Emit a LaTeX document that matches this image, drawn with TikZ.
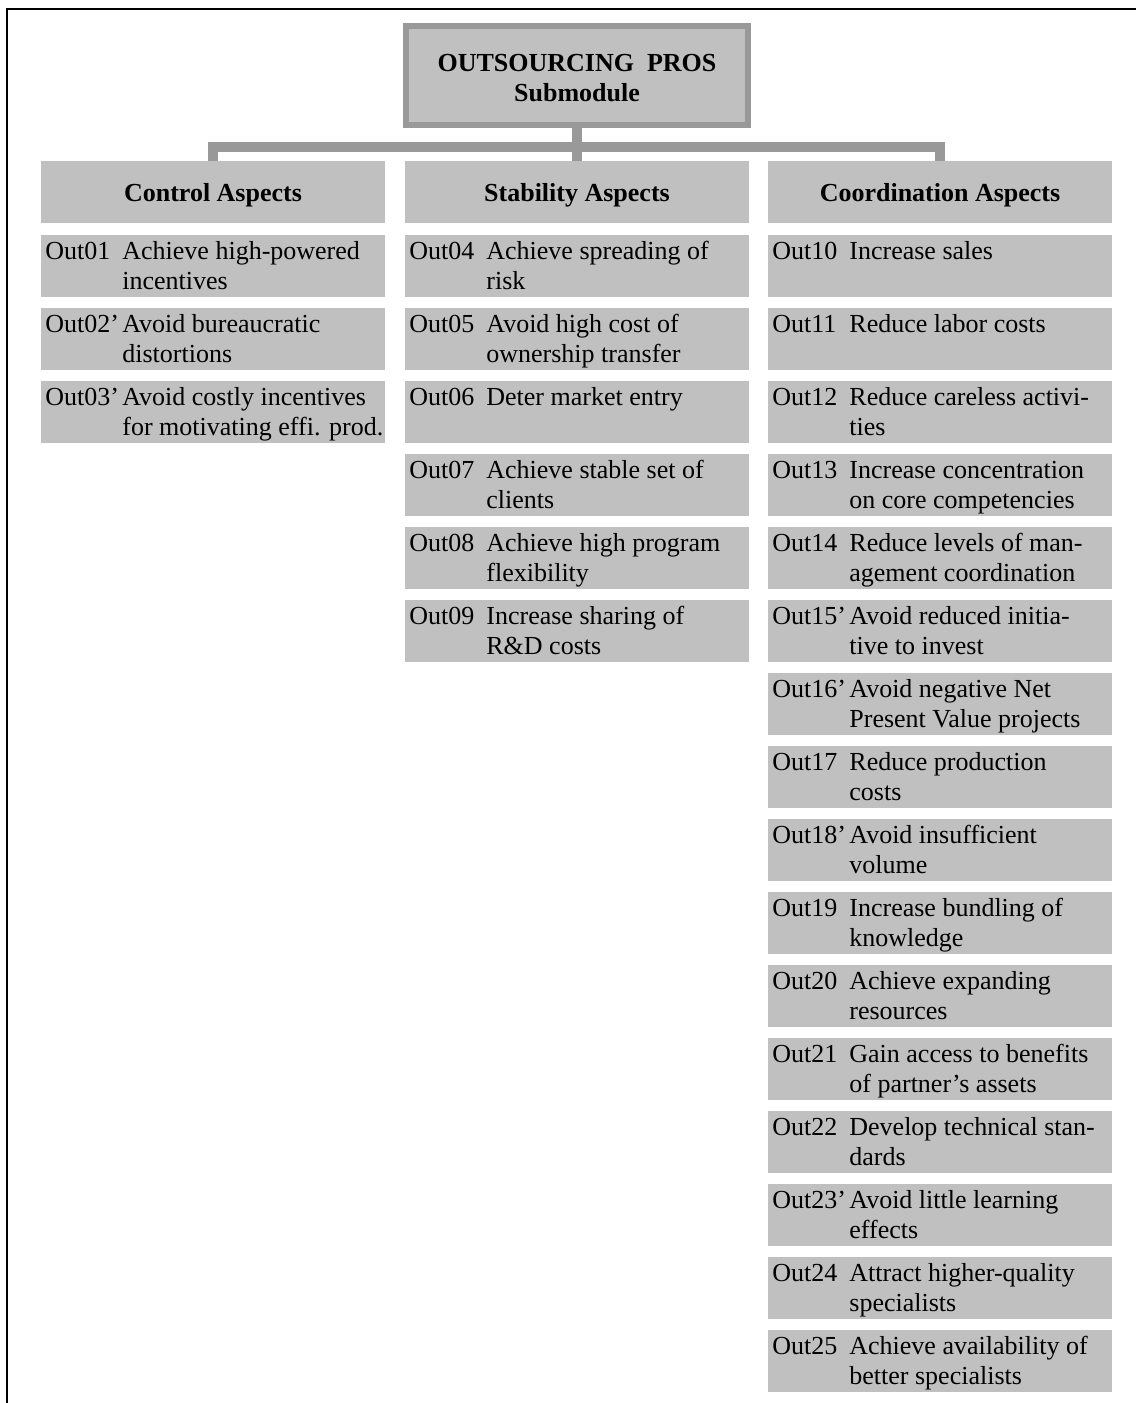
\documentclass[tikz,border=0pt]{standalone}
\usepackage{fontspec}
\setmainfont{Liberation Serif}
\usetikzlibrary{calc}
\definecolor{boxgray}{HTML}{C0C0C0}
\definecolor{linegray}{HTML}{999999}
\newcommand{\itemfont}{\fontsize{13}{15}\selectfont}
\newcommand{\headfont}{\fontsize{13}{15}\selectfont\bfseries}
% one outcome entry: name, column left edge, row number, code, wording
\newcommand{\outrow}[5]{%
  \node[itembox] (#1) at (#2,{235+73*(#3-1)}) {};
  \node[itemlabel] (#1l) at ($(#1.north west)+(4,24)$) {#4};
  \node[itemtext] (#1t) at ($(#1.north west)+(81,3)$) {\strut #5};
}
\begin{document}
\begin{tikzpicture}[x=0.5pt,y=-0.5pt,
  itembox/.style={anchor=north west,fill=boxgray,minimum width=172pt,minimum height=31pt,inner sep=0pt,outer sep=0pt},
  itemlabel/.style={anchor=base west,inner sep=0pt,font=\itemfont},
  itemtext/.style={anchor=north west,inner sep=0pt,align=left,font=\itemfont},
  headbox/.style={anchor=north west,fill=boxgray,minimum width=172pt,minimum height=31pt,inner sep=0pt,outer sep=0pt,text depth=0pt,font=\headfont},
  titlebox/.style={draw=linegray,line width=3pt,fill=boxgray,minimum width=171pt,minimum height=49.5pt,inner sep=0pt,outer sep=0pt},
  titletext/.style={inner sep=0pt,align=center,font=\headfont},
  conn/.style={draw=linegray,line width=5pt,line join=miter},
  frame/.style={draw=black,line width=1pt}]
\useasboundingbox (0,0) rectangle (1136,1403);
% page frame (top and left rules)
\coordinate (fbl) at (7,1403);
\coordinate (ftl) at (7,9);
\coordinate (ftr) at (1136,9);
\draw[frame] (fbl) -- (ftl) -- (ftr);

% title and column headers
\node[titlebox] (top) at (577,75.5) {};
\node[titletext] (topt) at (577,78) {OUTSOURCING\ \ PROS\\Submodule};
\node[headbox] (h1) at (41,161) {Control Aspects};
\node[headbox] (h2) at (405,161) {Stability Aspects};
\node[headbox] (h3) at (768,161) {Coordination Aspects};

% tree connectors
\draw[conn] (top.south) -- (h2.north);
\draw[conn] (h1.north) -- (h1.north |- 0,147) -| (h3.north);

% control aspects
\outrow{o01}{41}{1}{Out01}{Achieve high-powered\\incentives}
\outrow{o02}{41}{2}{Out02’}{Avoid bureaucratic\\distortions}
\outrow{o03}{41}{3}{Out03’}{Avoid costly incentives\\for motivating effi. prod.}

% stability aspects
\outrow{o04}{405}{1}{Out04}{Achieve spreading of\\risk}
\outrow{o05}{405}{2}{Out05}{Avoid high cost of\\ownership transfer}
\outrow{o06}{405}{3}{Out06}{Deter market entry}
\outrow{o07}{405}{4}{Out07}{Achieve stable set of\\clients}
\outrow{o08}{405}{5}{Out08}{Achieve high program\\flexibility}
\outrow{o09}{405}{6}{Out09}{Increase sharing of\\R\&D costs}

% coordination aspects
\outrow{o10}{768}{1}{Out10}{Increase sales}
\outrow{o11}{768}{2}{Out11}{Reduce labor costs}
\outrow{o12}{768}{3}{Out12}{Reduce careless activi-\\ties}
\outrow{o13}{768}{4}{Out13}{Increase concentration\\on core competencies}
\outrow{o14}{768}{5}{Out14}{Reduce levels of man-\\agement coordination}
\outrow{o15}{768}{6}{Out15’}{Avoid reduced initia-\\tive to invest}
\outrow{o16}{768}{7}{Out16’}{Avoid negative Net\\Present Value projects}
\outrow{o17}{768}{8}{Out17}{Reduce production\\costs}
\outrow{o18}{768}{9}{Out18’}{Avoid insufficient\\volume}
\outrow{o19}{768}{10}{Out19}{Increase bundling of\\knowledge}
\outrow{o20}{768}{11}{Out20}{Achieve expanding\\resources}
\outrow{o21}{768}{12}{Out21}{Gain access to benefits\\of partner’s assets}
\outrow{o22}{768}{13}{Out22}{Develop technical stan-\\dards}
\outrow{o23}{768}{14}{Out23’}{Avoid little learning\\effects}
\outrow{o24}{768}{15}{Out24}{Attract higher-quality\\specialists}
\outrow{o25}{768}{16}{Out25}{Achieve availability of\\better specialists}
\end{tikzpicture}
\end{document}
